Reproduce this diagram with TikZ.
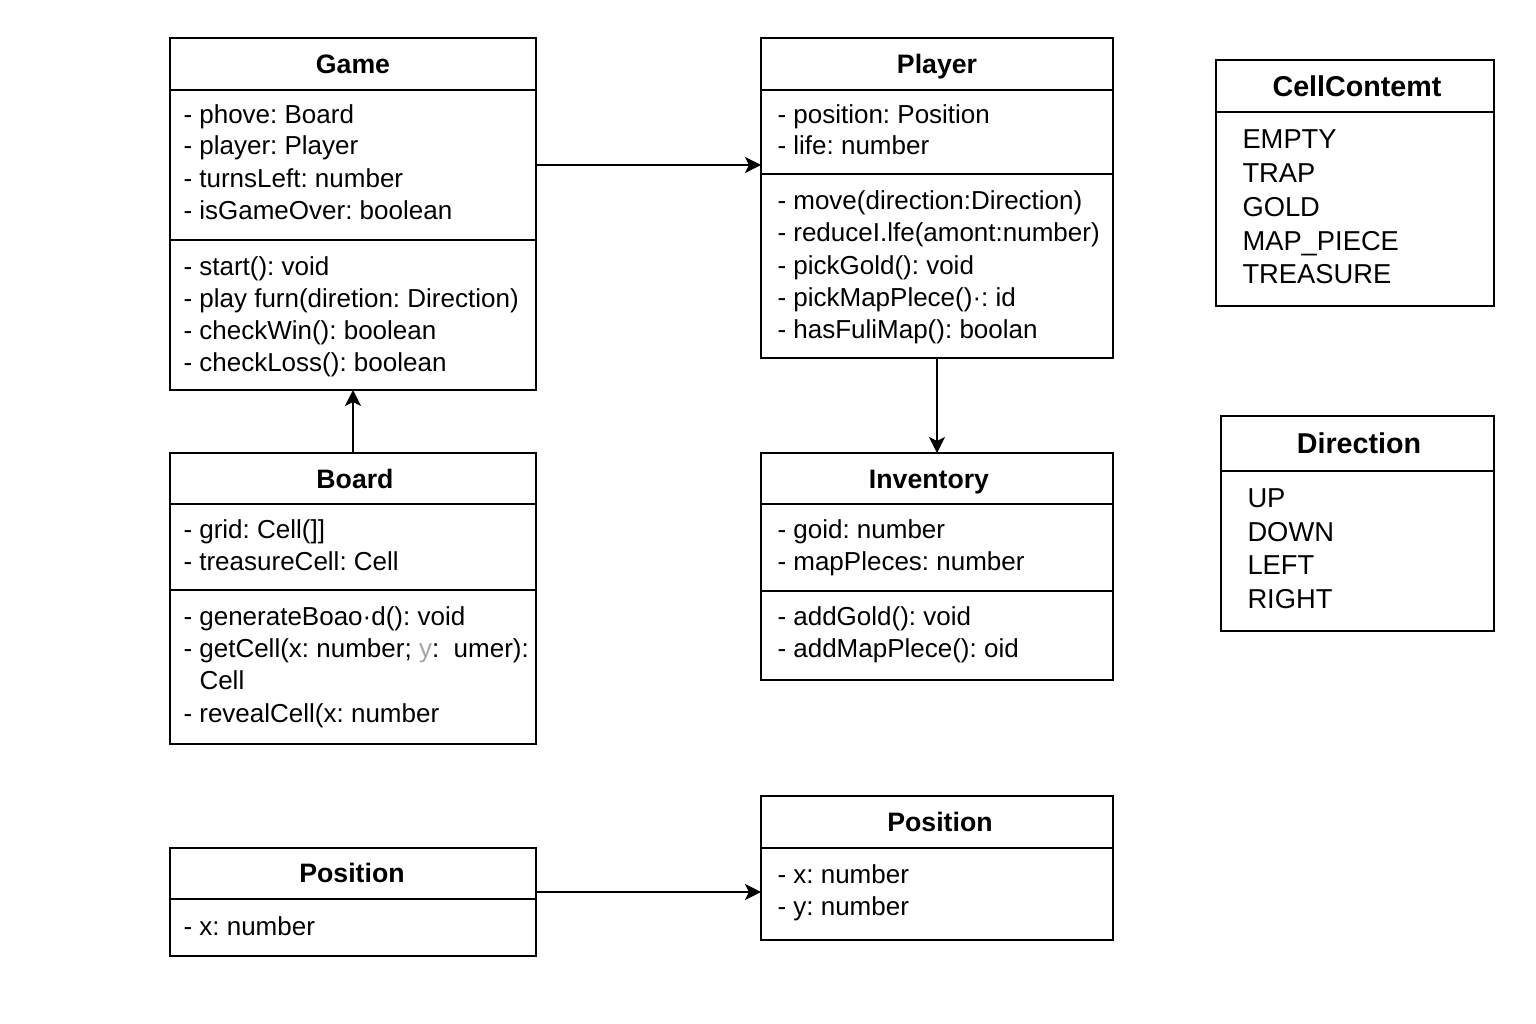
\documentclass[tikz,border=0pt]{standalone}
\usepackage{fontspec}
\setmainfont{Liberation Sans}
\usepackage{tikz}
\usetikzlibrary{arrows.meta,fit}
\frenchspacing
\tikzset{every picture/.style={line width=0.75pt}}
\tikzset{
	classbox/.style={draw, line width=1.6pt, inner sep=0pt, outer sep=0pt},
	divider/.style={line width=1.6pt},
	title/.style={anchor=base, inner sep=0pt, font=\fontsize{20pt}{24pt}\selectfont\bfseries},
	enumtitle/.style={anchor=base, inner sep=0pt, font=\fontsize{21.5pt}{26pt}\selectfont\bfseries},
	member/.style={anchor=base west, inner sep=0pt, font=\fontsize{19.5pt}{24pt}\selectfont},
	literal/.style={anchor=base west, inner sep=0pt, font=\fontsize{20.5pt}{25pt}\selectfont},
	conn/.style={line width=1.6pt, -{Stealth[length=12pt,width=12pt,inset=3pt]}}
}

\begin{document}
\begin{tikzpicture}[x=0.75pt,y=0.75pt,yscale=-1,xscale=1]
		%set diagram left start at 0, and has height of 1024
		\useasboundingbox (0,0) rectangle (1536,1024);
		
		%Shape: Rectangle [id:game]
		\node [classbox, fit={(170,38) (536,390)}] (game) {};
		\draw [divider] (game.west |- 0,90) -- (game.east |- 0,90) ;
		\draw [divider] (game.west |- 0,240) -- (game.east |- 0,240) ;
		% Text Node
		\draw (353,73.5) node [title] (gameT) {Game};
		\draw (183,123) node [member] (gameA1) {- phove: Board};
		\draw (183,155) node [member] (gameA2) {- player: Player};
		\draw (183,187) node [member] (gameA3) {- turnsLeft: number};
		\draw (183,219) node [member] (gameA4) {- isGameOver: boolean};
		\draw (183,275) node [member] (gameM1) {- start(): void};
		\draw (183,307) node [member] (gameM2) {- play furn(diretion: Direction)};
		\draw (183,339) node [member] (gameM3) {- checkWin(): boolean};
		\draw (183,371) node [member] (gameM4) {- checkLoss(): boolean};
		
		%Shape: Rectangle [id:player]
		\node [classbox, fit={(761,38) (1113,358)}] (player) {};
		\draw [divider] (player.west |- 0,90) -- (player.east |- 0,90) ;
		\draw [divider] (player.west |- 0,174) -- (player.east |- 0,174) ;
		% Text Node
		\draw (937,73.5) node [title] (playerT) {Player};
		\draw (777,123) node [member] (playerA1) {- position: Position};
		\draw (777,155) node [member] (playerA2) {- life: number};
		\draw (777,209) node [member] (playerM1) {- move(direction:Direction)};
		\draw (777,241) node [member] (playerM2) {- reduceI.lfe(amont:number)};
		\draw (777,274) node [member] (playerM3) {- pickGold(): void};
		\draw (777,306) node [member] (playerM4) {- pickMapPlece()·: id};
		\draw (777,338) node [member] (playerM5) {- hasFuliMap(): boolan};
		
		%Shape: Rectangle [id:cellcontent]
		\node [classbox, fit={(1216,60) (1494,306)}] (cellcontent) {};
		\draw [divider] (cellcontent.west |- 0,112) -- (cellcontent.east |- 0,112) ;
		% Text Node
		\draw (1357,97) node [enumtitle] (cellcontentT) {CellContemt};
		\draw (1242,148) node [literal] (cellcontentL1) {EMPTY};
		\draw (1242,182) node [literal] (cellcontentL2) {TRAP};
		\draw (1242,216) node [literal] (cellcontentL3) {GOLD};
		\draw (1242,250) node [literal] (cellcontentL4) {MAP\_PIECE};
		\draw (1242,283) node [literal] (cellcontentL5) {TREASURE};
		
		%Shape: Rectangle [id:direction]
		\node [classbox, fit={(1221,416) (1494,631)}] (direction) {};
		\draw [divider] (direction.west |- 0,471) -- (direction.east |- 0,471) ;
		% Text Node
		\draw (1359,453) node [enumtitle] (directionT) {Direction};
		\draw (1247,507) node [literal] (directionL1) {UP};
		\draw (1247,541) node [literal] (directionL2) {DOWN};
		\draw (1247,574) node [literal] (directionL3) {LEFT};
		\draw (1247,608) node [literal] (directionL4) {RIGHT};
		
		%Shape: Rectangle [id:board]
		\node [classbox, fit={(170,453) (536,744)}] (board) {};
		\draw [divider] (board.west |- 0,504) -- (board.east |- 0,504) ;
		\draw [divider] (board.west |- 0,590) -- (board.east |- 0,590) ;
		% Text Node
		\draw (355,488.5) node [title] (boardT) {Board};
		\draw (183,538) node [member] (boardA1) {- grid: Cell(]]};
		\draw (183,570) node [member] (boardA2) {- treasureCell: Cell};
		\draw (183,625) node [member] (boardM1) {- generateBoao·d(): void};
		\draw (183,657) node [member] (boardM2) {- getCell(x: number; {\color{black!35}y}:\ \ umer):};
		\draw (199,689) node [member] (boardM2b) {Cell};
		\draw (183,722) node [member] (boardM3) {- revealCell(x: number};
		
		%Shape: Rectangle [id:inventory]
		\node [classbox, fit={(761,453) (1113,680)}] (inventory) {};
		\draw [divider] (inventory.west |- 0,504) -- (inventory.east |- 0,504) ;
		\draw [divider] (inventory.west |- 0,591) -- (inventory.east |- 0,591) ;
		% Text Node
		\draw (929,488.5) node [title] (inventoryT) {Inventory};
		\draw (777,538) node [member] (inventoryA1) {- goid: number};
		\draw (777,570) node [member] (inventoryA2) {- mapPleces: number};
		\draw (777,625) node [member] (inventoryM1) {- addGold(): void};
		\draw (777,657) node [member] (inventoryM2) {- addMapPlece(): oid};
		
		%Shape: Rectangle [id:positionA]
		\node [classbox, fit={(170,848) (536,956)}] (positionA) {};
		\draw [divider] (positionA.west |- 0,899) -- (positionA.east |- 0,899) ;
		% Text Node
		\draw (352,882.5) node [title] (positionAT) {Position};
		\draw (183,935) node [member] (positionAA1) {- x: number};
		
		%Shape: Rectangle [id:positionB]
		\node [classbox, fit={(761,796) (1113,940)}] (positionB) {};
		\draw [divider] (positionB.west |- 0,848) -- (positionB.east |- 0,848) ;
		% Text Node
		\draw (940,831.5) node [title] (positionBT) {Position};
		\draw (777,883) node [member] (positionBA1) {- x: number};
		\draw (777,915) node [member] (positionBA2) {- y: number};
		
		%Straight Lines [id:game-player]
		\draw [conn] (game.east |- 0,165) -- (player.west |- 0,165) ;
		%Straight Lines [id:board-game]
		\draw [conn] (board.north) -- (game.south) ;
		%Straight Lines [id:player-inventory]
		\draw [conn] (player.south) -- (inventory.north) ;
		%Straight Lines [id:positionA-positionB]
		\draw [conn] (positionA.east |- 0,892) -- (positionB.west |- 0,892) ;
		
\end{tikzpicture}
\end{document}
